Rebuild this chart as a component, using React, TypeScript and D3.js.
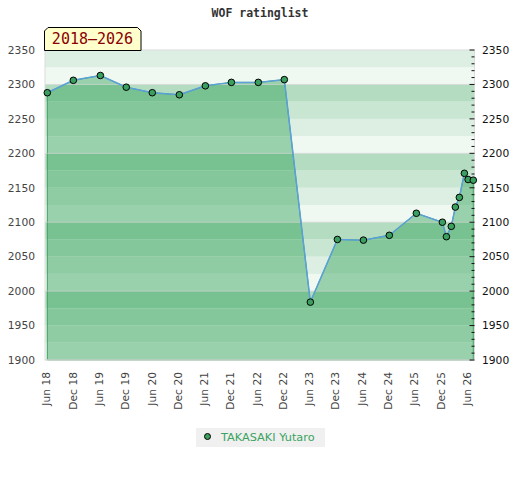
import React from "react";
import * as d3 from "d3";

// rating list dates and values
const listDates = [
  "2018-06-05", "2018-12-03", "2019-06-09", "2019-12-06", "2020-06-04", "2020-12-09",
  "2021-06-08", "2021-12-06", "2022-06-11", "2022-12-09", "2023-06-08", "2023-12-13",
  "2024-06-11", "2024-12-08", "2025-06-14", "2025-12-12", "2026-01-09", "2026-02-12",
  "2026-03-12", "2026-04-09", "2026-05-14", "2026-06-09", "2026-07-15",
];
const ratings = [
  2288, 2306, 2313, 2296, 2288, 2285, 2298, 2303, 2303, 2307, 1984, 2075,
  2074, 2081, 2113, 2100, 2079, 2094, 2122, 2136, 2171, 2162, 2161,
];
const yDomain = [1900, 2350];
const playerName = "TAKASAKI Yutaro";
const periodLabel = "2018–2026";
const chartTitle = "WOF ratinglist";

// band shades, darkest (top quarter of each hundred) to lightest
const bgShades = ["#b3dcc0", "#c8e6d2", "#dcefe2", "#f0f8f2"];
const areaShades = ["#78c291", "#84c79b", "#8fcca3", "#9ad1ad"];

const W = 520;
const H = 480;
const plot = { left: 45, right: 474.5, top: 50, bottom: 360 };

export default function App() {
  const parse = d3.timeParse("%Y-%m-%d");
  const data = listDates.map((d, i) => ({ date: parse(d)!, value: ratings[i] }));

  const x = d3.scaleTime()
    .domain(d3.extent(data, (d) => d.date) as [Date, Date])
    .range([47.3, 473.3]);
  const y = d3.scaleLinear().domain(yDomain).range([plot.bottom, plot.top]);

  const xTicks = d3.timeMonths(new Date(2018, 5, 1), new Date(2026, 6, 1))
    .filter((m) => m.getMonth() === 5 || m.getMonth() === 11);
  const fmt = d3.timeFormat("%b %y");

  const bands = d3.range(yDomain[0], yDomain[1], 25).map((lo) => ({
    lo,
    q: 3 - ((lo % 100) / 25),
  }));

  const line = d3.line<{ date: Date; value: number }>()
    .x((d) => x(d.date))
    .y((d) => y(d.value));
  const area = d3.area<{ date: Date; value: number }>()
    .x((d) => x(d.date))
    .y0(plot.bottom)
    .y1((d) => y(d.value));

  const yTicks = d3.range(yDomain[0], yDomain[1] + 1, 50);
  const minorTicks = d3.range(yDomain[0], yDomain[1] + 1, 10);
  const grid = d3.range(yDomain[0], yDomain[1] + 1, 100);

  const axisFont = "'DejaVu Sans', sans-serif";
  const pw = plot.right - plot.left;

  return (
    <svg width={W} height={H} style={{ position: "absolute", left: 0, top: 0 }}>
      <defs>
        <clipPath id="areaClip">
          <path d={area(data)!} />
        </clipPath>
      </defs>

      <text x={260} y={17} textAnchor="middle" fontFamily="'DejaVu Sans Mono', monospace"
        fontWeight="bold" fontSize={11.5} fill="#333">{chartTitle}</text>

      {/* background bands */}
      {bands.map((b) => (
        <rect key={"bg" + b.lo} x={plot.left} width={pw} y={y(b.lo + 25)}
          height={y(b.lo) - y(b.lo + 25)} fill={bgShades[b.q]} />
      ))}
      {/* area bands */}
      <g clipPath="url(#areaClip)">
        {bands.map((b) => (
          <rect key={"ar" + b.lo} x={plot.left} width={pw} y={y(b.lo + 25)}
            height={y(b.lo) - y(b.lo + 25)} fill={areaShades[b.q]} />
        ))}
      </g>
      <path d={area(data)!} fill="none" stroke="#3f9f60" strokeWidth={1} />

      {grid.map((g) => (
        <line key={"g" + g} x1={plot.left} x2={plot.right} y1={y(g)} y2={y(g)}
          stroke="#cfcfcf" strokeOpacity={0.6} />
      ))}
      <rect x={plot.left} y={plot.top} width={pw} height={plot.bottom - plot.top}
        fill="none" stroke="#dcdcdc" />

      {/* right axis ticks */}
      {minorTicks.map((t) => (
        <line key={"m" + t} x1={plot.right - (t % 50 === 0 ? 5 : 3)} x2={plot.right}
          y1={y(t)} y2={y(t)} stroke="#111" />
      ))}

      {yTicks.map((t) => (
        <g key={"y" + t} fontFamily={axisFont} fontSize={10.7}>
          <text x={35} y={y(t)} dy="0.35em" textAnchor="end" fill="#444">{t}</text>
          <text x={482} y={y(t)} dy="0.35em" fill="#111">{t}</text>
        </g>
      ))}

      {xTicks.map((t) => (
        <text key={"x" + t.getTime()} transform={`translate(${x(t)},372) rotate(-90)`}
          dy="0.35em" textAnchor="end" fontFamily={axisFont} fontSize={10.7} fill="#444">
          {fmt(t)}
        </text>
      ))}

      <path d={line(data)!} fill="none" stroke="#5ba0d8" strokeWidth={1.5} />
      {data.map((d, i) => (
        <circle key={"p" + i} cx={x(d.date)} cy={y(d.value)} r={3.3}
          fill="#3a9f5f" stroke="#000" strokeWidth={1} />
      ))}

      {/* period label */}
      <path d="M44.5,50.5 L44.5,31 L48,27.5 L137.5,27.5 L141,31 L141,50.5 Z"
        fill="#ffffcc" stroke="#000" strokeWidth={1} />
      <text x={92.5} y={44} textAnchor="middle" fontFamily="'DejaVu Sans Mono', monospace"
        fontSize={15} fill="#8b0000">{periodLabel}</text>

      {/* legend */}
      <rect x={196} y={428} width={129} height={19} fill="#f0f0f0" />
      <circle cx={207.5} cy={436.5} r={3} fill="#3a9f5f" stroke="#000" strokeWidth={1} />
      <text x={221} y={441} fontFamily={axisFont} fontSize={11.3} fill="#3aa35f">{playerName}</text>
    </svg>
  );
}
